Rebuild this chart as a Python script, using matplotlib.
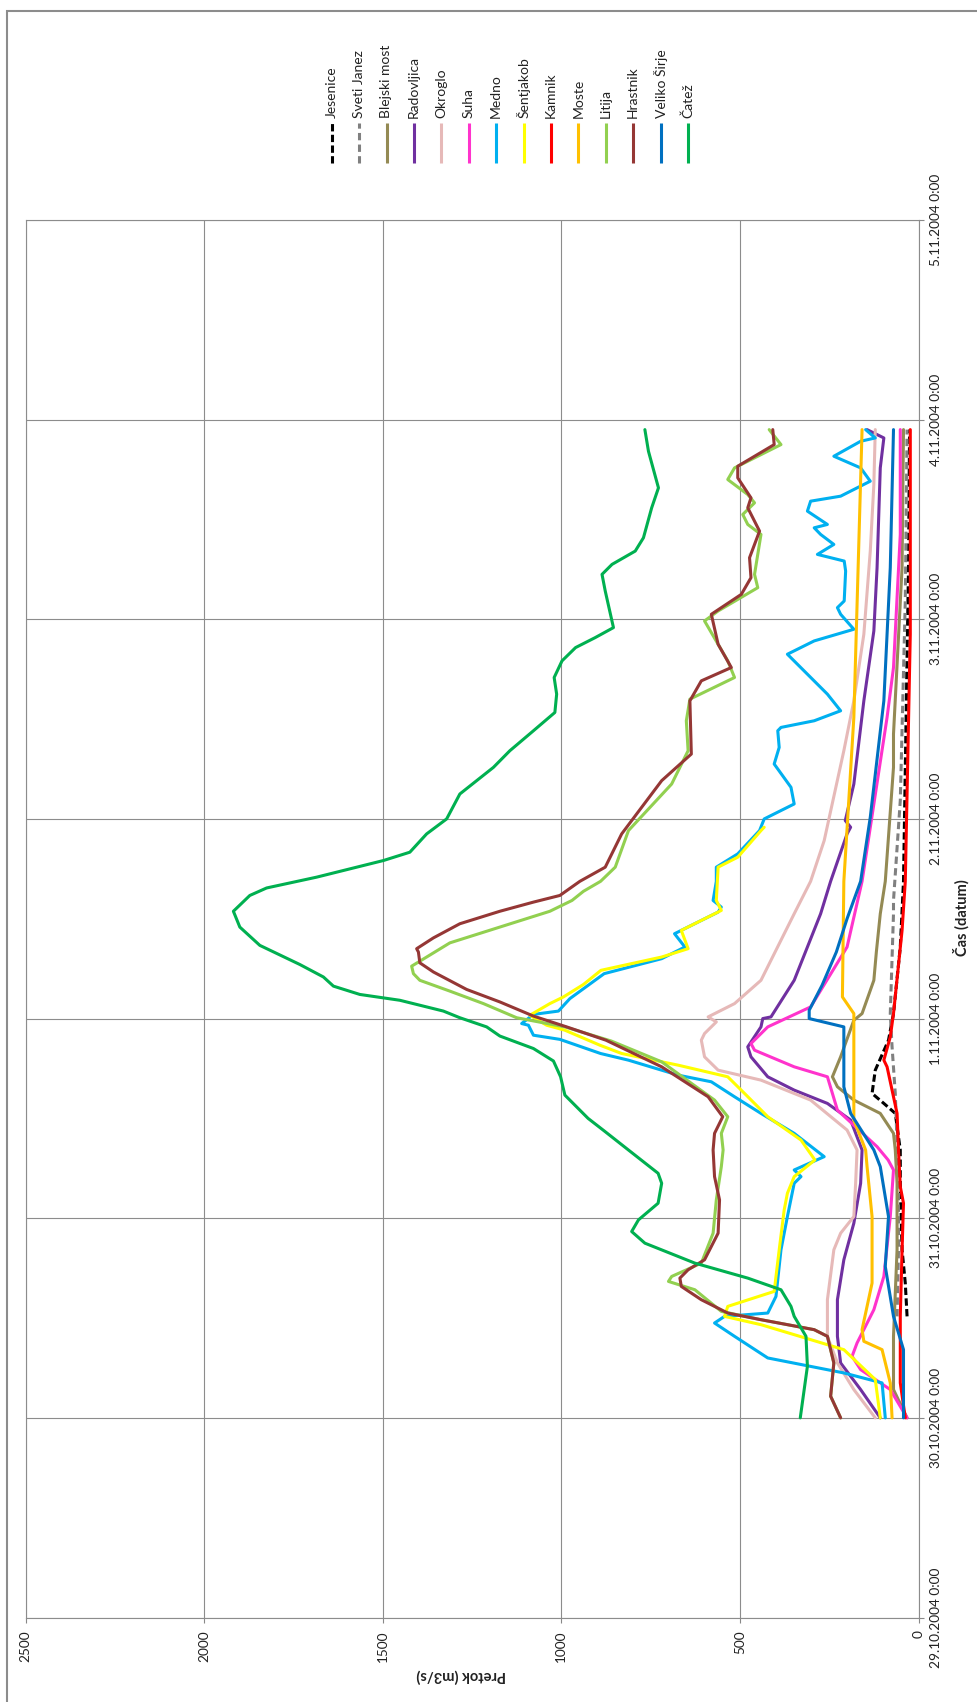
import numpy as np
import matplotlib
matplotlib.use("Agg")
import matplotlib.pyplot as plt
from matplotlib.lines import Line2D
from matplotlib.patches import Rectangle

plt.rcParams['font.family'] = ['Lato', 'DejaVu Sans']

# hours after 30.10.2004 0:00, flow in m3/s
jesenice_t = [12.2, 16.2, 20.2, 28.2, 32.2, 36.6, 37.8, 39, 41.8, 45.4, 48.6, 56.6, 64.5, 102.2, 118.8]
jesenice_q = [32, 37, 46, 51, 51, 65, 97, 130, 121, 84, 70, 51, 42, 28, 25]

sveti_janez_t = [12.2, 20.2, 28.2, 39, 44.6, 48.6, 60.6, 62.2, 74.2, 98.2, 118.8]
sveti_janez_q = [60, 56, 56, 65, 74, 79, 70, 70, 51, 37, 32]

blejski_t = [0, 3.4, 9.8, 20.2, 28.2, 32.2, 34.2, 36.6, 38.2, 39.8, 41, 43.4, 47.8, 48.6, 52.6,
             56, 60.6, 64.5, 78.2, 82.2, 102.2, 118.8]
blejski_q = [32, 70, 70, 60, 60, 65, 70, 107, 181, 227, 241, 218, 181, 158, 125,
             118, 107, 93, 70, 70, 46, 42]

radovljica_t = [0, 3.4, 6.6, 9.8, 14.2, 19, 23.4, 28.2, 32.2, 35.8, 37.8, 39.4, 41, 43.4, 44.6,
                47, 48, 48.2, 52.6, 60.6, 64.5, 70.2, 71, 71.8, 76.2, 86.2, 94.6, 102.2,
                114.2, 117.8, 118.8]
radovljica_q = [107, 162, 218, 227, 227, 209, 181, 162, 158, 190, 255, 348, 422, 469, 478,
                441, 436, 413, 348, 274, 246, 200, 190, 205, 181, 153, 125, 116,
                107, 97, 144]

okroglo_t = [0, 3.4, 6.6, 9.8, 14.2, 20.2, 22.2, 24.2, 28.2, 32.2, 34.6, 38.2, 40.6, 41.8, 43.4,
             45.4, 46.2, 47.6, 48.2, 49.8, 52.6, 60.6, 64.5, 69.4, 80.2, 86.2, 94.2, 104.2,
             112.2, 118.8]
okroglo_q = [121, 181, 227, 255, 255, 237, 218, 181, 176, 172, 200, 302, 441, 561, 599,
             608, 599, 566, 589, 515, 441, 348, 302, 264, 209, 181, 153, 135,
             125, 121]

suha_t = [0, 3.4, 5.8, 7.4, 9, 13, 17, 24.2, 29.8, 31, 32.6, 37, 41, 42.2, 44.2, 45, 47, 49.4,
          56.6, 64.5, 84.2, 90.2, 106.2, 118.8]
suha_q = [32, 79, 162, 186, 172, 125, 97, 79, 70, 85, 116, 227, 255, 348, 459, 469, 422, 302,
          200, 158, 88, 70, 51, 51]

medno_t = [0, 4.2, 5.4, 7.2, 9.8, 11.4, 12.2, 12.6, 14.6, 20.2, 24.2, 28.2, 29, 29.8, 31.4,
           34.2, 36.6, 38.6, 40.4, 41.2, 43, 43.8, 45.5, 46, 47.2, 47.4, 48.5, 48.9, 50.4,
           53.4, 55.2, 56.6, 58.2, 60.8, 61.4, 62.2, 64.5, 66.2, 67.8, 70.6, 72, 73.8, 75.8,
           78.6, 80.6, 82.6, 83, 83.8, 85, 87, 89.4, 91.8, 93.4, 94.8, 96.6, 97.4, 98.2,
           101.8, 103, 103.8, 105, 106.2, 107, 107.4, 109, 110.2, 110.8, 112.6, 114.2,
           115.6, 117.4, 117.8, 118.8]
medno_q = [93, 102, 209, 422, 515, 571, 543, 422, 399, 385, 367, 348, 329, 348, 264,
           348, 441, 515, 580, 673, 812, 890, 1004, 1078, 1092, 1111, 1078, 1008, 976,
           880, 719, 654, 683, 561, 552, 575, 566, 566, 506, 445, 432, 348, 357,
           404, 390, 394, 385, 292, 218, 255, 311, 367, 292, 181, 218, 227, 208,
           204, 208, 283, 237, 274, 292, 255, 311, 302, 218, 135, 162,
           237, 162, 121, 148]

sentjakob_t = [0, 4.6, 8.2, 10, 11.2, 12.2, 13.4, 15.2, 20.2, 25, 27, 29, 31, 33.4, 36.2, 39,
               41, 42.4, 43.8, 44.8, 46.6, 47.2, 48.4, 49.8, 50.6, 52.1, 53.8, 55.4, 56.4,
               58.6, 61, 62.2, 66.2, 67.4, 70.6, 71]
sentjakob_q = [107, 121, 209, 348, 441, 543, 534, 404, 390, 376, 367, 348, 290, 329, 422, 487,
               534, 673, 831, 892, 990, 1041, 1088, 1032, 994, 938, 889, 719, 645,
               664, 552, 566, 561, 506, 441, 432]

kamnik_t = [0, 4.2, 12.2, 20.2, 25.8, 27.8, 32.2, 36.6, 42.2, 43, 45.8, 48.6, 58.6, 64.5, 94.2, 118.8]
kamnik_q = [37, 51, 51, 46, 42, 51, 56, 60, 88, 97, 79, 70, 46, 37, 23, 23]

moste_t = [0, 4.2, 8.2, 9.2, 10.6, 16.2, 24.2, 30.2, 32.2, 35.8, 48.6, 50.6, 64.5, 84.2, 118.8]
moste_q = [74, 79, 102, 153, 158, 130, 130, 144, 148, 181, 181, 213, 209, 181, 158]

litija_t = [0, 2.6, 6.6, 9.8, 10.6, 11.8, 12.8, 15.4, 16.4, 17, 18.6, 22.2, 26.2, 30.2, 32.2,
            34.2, 36.2, 38.2, 42.8, 45.3, 47, 48.1, 49.8, 51.3, 52.6, 53.4, 54.3, 54.9, 57.1,
            59, 60.9, 62.2, 63.3, 64.5, 66.2, 70.6, 76.2, 80.2, 83.8, 86.4, 89, 91, 95.8,
            97, 99.8, 101.4, 106.2, 107.4, 108.6, 110, 111, 112.8, 114.2, 117, 118.8]
litija_q = [218, 246, 237, 255, 292, 441, 552, 626, 700, 691, 608, 575, 566, 552, 547,
            552, 534, 571, 719, 860, 990, 1125, 1218, 1312, 1396, 1414, 1419, 1396, 1312,
            1172, 1032, 970, 938, 890, 849, 812, 691, 645, 650, 640, 515, 534, 599,
            561, 450, 459, 441, 478, 492, 459, 478, 534, 515, 385, 418]

hrastnik_t = [0, 2.6, 6.6, 9.8, 10.6, 11.8, 12.6, 14.2, 15.8, 16.8, 17.8, 19, 22.2, 26.2, 29,
              32.2, 34.2, 36.2, 38.6, 42.2, 45.4, 47, 48.3, 50, 51.5, 53.6, 54.7, 56, 56.4,
              57.7, 59.4, 60.9, 62, 62.8, 64.5, 66.2, 70.2, 76.6, 79.8, 86.2, 88.6, 90.2,
              93, 96.6, 99, 101, 103.4, 106.6, 109.4, 110.6, 113, 114.4, 117, 118.8]
hrastnik_q = [218, 246, 237, 255, 292, 441, 534, 608, 664, 668, 645, 599, 561, 557, 571,
              575, 571, 548, 589, 719, 875, 985, 1078, 1172, 1265, 1358, 1396, 1400, 1405,
              1358, 1284, 1172, 1078, 1004, 948, 877, 831, 719, 636, 640, 608, 524,
              561, 580, 496, 469, 473, 445, 478, 469, 506, 506, 404, 408]

veliko_sirje_t = [0, 8.2, 12.2, 18.2, 24.2, 30.2, 32.2, 36.6, 39.8, 47, 48, 49, 52, 56, 60,
                  64.5, 72.2, 86.2, 102.2, 118.8]
veliko_sirje_q = [42, 42, 70, 93, 84, 107, 125, 190, 209, 209, 306, 306, 270, 230, 200,
                  162, 135, 97, 79, 70]

catez_t = [0, 6.2, 9.8, 12.2, 13.4, 15.4, 16.8, 18.6, 21, 22.4, 23.8, 25.8, 28.2, 29.4, 32.2,
           34.5, 36, 38.8, 41, 42.9, 44.4, 45.9, 47, 48.1, 48.9, 50.2, 50.9, 51.9, 53, 54.5,
           56.8, 59, 60.9, 62.8, 63.7, 65, 67, 68, 70.2, 72, 75, 78.2, 80.2, 82.6, 84.8,
           87, 89, 91, 92.6, 93.8, 95, 99.4, 101.4, 102.6, 104.2, 105.8, 109.4, 111.8,
           116.2, 118.8]
catez_q = [331, 311, 315, 348, 357, 385, 478, 626, 766, 803, 784, 729, 719, 729, 812,
           880, 925, 990, 1002, 1022, 1078, 1172, 1209, 1284, 1330, 1452, 1564, 1638, 1666, 1732,
           1844, 1900, 1918, 1872, 1825, 1685, 1498, 1424, 1377, 1321, 1284, 1190, 1144, 1078, 1018,
           1013, 1020, 998, 960, 905, 854, 877, 886, 858, 793, 770, 747, 728,
           756, 766]

names = ['Jesenice', 'Sveti Janez', 'Blejski most', 'Radovljica', 'Okroglo', 'Suha', 'Medno',
         'Šentjakob', 'Kamnik', 'Moste', 'Litija', 'Hrastnik', 'Veliko Širje', 'Čatež']
times = [jesenice_t, sveti_janez_t, blejski_t, radovljica_t, okroglo_t, suha_t, medno_t,
         sentjakob_t, kamnik_t, moste_t, litija_t, hrastnik_t, veliko_sirje_t, catez_t]
flows = [jesenice_q, sveti_janez_q, blejski_q, radovljica_q, okroglo_q, suha_q, medno_q,
         sentjakob_q, kamnik_q, moste_q, litija_q, hrastnik_q, veliko_sirje_q, catez_q]
colors = ['#000000', '#808080', '#948A54', '#7030A0', '#E6B9B8', '#FF33CC', '#00B0F0',
          '#FFFF00', '#FF0000', '#FFC000', '#92D050', '#953735', '#0070C0', '#00B050']

date_labels = ['29.10.2004 0:00', '30.10.2004 0:00', '31.10.2004 0:00', '1.11.2004 0:00',
               '2.11.2004 0:00', '3.11.2004 0:00', '4.11.2004 0:00', '5.11.2004 0:00']
flow_ticks = [0, 500, 1000, 1500, 2000, 2500]

W, H = 977, 1702
fig = plt.figure(figsize=(W / 100, H / 100), dpi=100)
ax = fig.add_axes([25.5 / W, 1 - 1617.5 / H, 893 / W, 1397.5 / H])

lw = 2.2
for name, t, q, c in zip(names, times, flows, colors):
    hrs = np.array(t) + 24  # shift so 29.10 0:00 is zero
    line, = ax.plot(q, hrs, color=c, lw=lw, solid_joinstyle='round', solid_capstyle='round')
    if name == 'Jesenice':
        line.set_dashes((2.4, 1.1))
    elif name == 'Sveti Janez':
        line.set_dashes((2.4, 1.4))

ax.set_xlim(2500, 0)
ax.set_ylim(0, 168)
ax.set_xticks(flow_ticks)
ax.set_xticklabels([str(v) for v in flow_ticks], rotation=90)
ax.set_yticks(np.arange(0, 169, 24))
ax.set_yticklabels(date_labels, rotation=90, va='center')
ax.yaxis.tick_right()
ax.tick_params(axis='both', direction='out', length=3.6, width=0.8, color='#888888',
               labelsize=9.8, labelcolor='#222222')
ax.tick_params(axis='x', pad=5.5)
ax.tick_params(axis='y', pad=5)
ax.grid(True, color='#8c8c8c', lw=0.8)
ax.set_axisbelow(True)
for s in ax.spines.values():
    s.set_color('#8c8c8c')
    s.set_linewidth(0.8)

fig.text(461 / W, 1 - 1676 / H, 'Pretok (m3/s)', rotation=180, ha='center', va='center',
         fontsize=10.5, fontweight='bold', color='#222222')
fig.text(961 / W, 1 - 918 / H, 'Čas (datum)', rotation=90, ha='center', va='center',
         fontsize=10.5, fontweight='bold', color='#222222')

# legend laid out by hand: rotated labels above short vertical samples
for i, (name, c) in enumerate(zip(names, colors)):
    x = (331.7 + i * 27.4) / W
    ln = Line2D([x, x], [1 - 163 / H, 1 - 123 / H], transform=fig.transFigure, color=c,
                lw=lw, solid_capstyle='butt')
    if name == 'Jesenice':
        ln.set_dashes((2.4, 1.1))
    elif name == 'Sveti Janez':
        ln.set_dashes((2.4, 1.4))
    fig.add_artist(ln)
    fig.text(x, 1 - 118 / H, name, rotation=90, ha='center', va='bottom', fontsize=10,
             color='#222222')

fig.add_artist(Rectangle((7.3 / W, -0.05), 1.2, 1.05 + 0.9937 - 1.0, transform=fig.transFigure,
                         fill=False, edgecolor='#8c8c8c', lw=1.5))

fig.savefig('out.png', dpi=100)
